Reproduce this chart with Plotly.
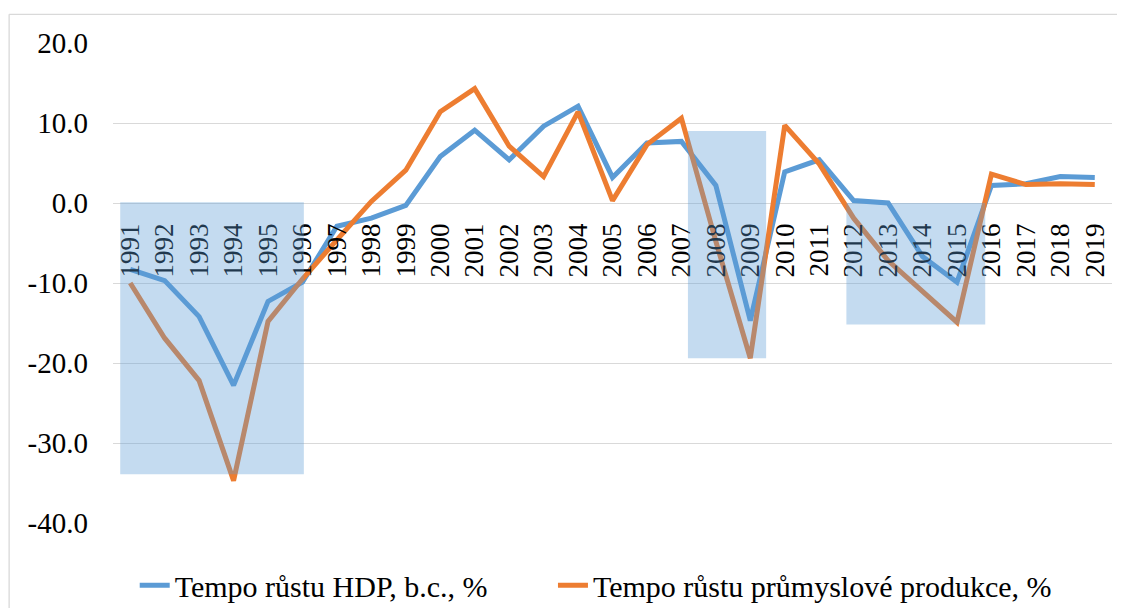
import plotly.graph_objects as go

years = [str(y) for y in range(1991, 2020)]
hdp = [-8.3, -9.7, -14.2, -22.8, -12.3, -9.9, -2.9, -1.9, -0.3, 5.8, 9.1, 5.4, 9.6, 12.1, 3.2,
       7.5, 7.7, 2.2, -14.7, 3.9, 5.4, 0.3, 0.0, -6.7, -9.9, 2.2, 2.4, 3.3, 3.2]
prum = [-10.0, -16.9, -22.2, -34.7, -14.8, -9.5, -4.6, 0.2, 4.1, 11.4, 14.3, 7.1, 3.3, 11.4, 0.3,
        7.3, 10.6, -4.8, -19.4, 9.7, 4.9, -1.9, -7.2, -11.1, -14.9, 3.6, 2.3, 2.4, 2.3]
series_names = ["Tempo růstu HDP, b.c., %", "Tempo růstu průmyslové produkce, %"]
y_ticks = [20, 10, 0, -10, -20, -30, -40]
y_tick_text = ["20.0", "10.0", "0.0", "-10.0", "-20.0", "-30.0", "-40.0"]
# recession shading: (x0, x1, y0, y1) in category index / value units
shade_x0 = [-0.29, 16.19, 20.79]
shade_x1 = [5.04, 18.46, 24.82]
shade_y0 = [-33.9, -19.4, -15.2]
shade_y1 = [0.1, 9.0, 0.0]

BLUE = "#5B9BD5"
ORANGE = "#ED7D31"
FONT = "Liberation Serif"

fig = go.Figure()
fig.add_trace(go.Scatter(x=years, y=hdp, mode="lines", name=series_names[0],
                         line=dict(color=BLUE, width=5), legend="legend"))
fig.add_trace(go.Scatter(x=years, y=prum, mode="lines", name=series_names[1],
                         line=dict(color=ORANGE, width=5), legend="legend2"))

for x0, x1, y0, y1 in zip(shade_x0, shade_x1, shade_y0, shade_y1):
    fig.add_shape(type="rect", xref="x", yref="y", x0=x0, x1=x1, y0=y0, y1=y1,
                  fillcolor=BLUE, opacity=0.36, line=dict(width=0), layer="above")

# page has an 8px body margin; work in page pixels and convert
OFF = 8
W, H = 1117, 600
ml, mr, mt, mb = 113.3 - OFF, 13.3, 42.7 - OFF, 85.3
pw, ph = W - ml - mr, H - mt - mb
def px(xp):
    return (xp - OFF - ml) / pw
def py(yp):
    return (H - mb - (yp - OFF)) / ph
fig.add_shape(type="line", xref="paper", yref="paper", x0=px(9.5), x1=px(9.5), y0=py(14), y1=py(620),
              line=dict(color="#d9d9d9", width=1.3), layer="below")
fig.add_shape(type="line", xref="paper", yref="paper", x0=px(9.5), x1=px(1130), y0=py(14), y1=py(14),
              line=dict(color="#d9d9d9", width=1.3), layer="below")

leg_common = dict(orientation="h", yanchor="middle", y=py(585), xanchor="left",
                  font=dict(family=FONT, size=30), bgcolor="rgba(0,0,0,0)")
fig.update_layout(
    width=W, height=H,
    margin=dict(l=ml, r=mr, t=mt, b=mb, autoexpand=False),
    paper_bgcolor="white", plot_bgcolor="white",
    font=dict(family=FONT, size=30, color="black"),
    showlegend=True,
    legend=dict(x=px(135), **leg_common),
    legend2=dict(x=px(553), **leg_common),
    xaxis=dict(type="category", anchor="free", position=40 / 60, tickangle=-90,
               tickmode="array", tickvals=years, ticktext=years,
               showgrid=False, showline=False, ticks="", ticklabelstandoff=14,
               tickfont=dict(family=FONT, size=27), range=[-0.5, 28.5]),
    yaxis=dict(range=[-40, 20], tickvals=y_ticks, ticktext=y_tick_text,
               showgrid=True, gridcolor="#d9d9d9", gridwidth=1.3,
               zeroline=True, zerolinecolor="#d9d9d9", zerolinewidth=1.3,
               showline=False, ticks="", ticklabelstandoff=24,
               tickfont=dict(family=FONT, size=29)),
)

fig.write_html("out.html")
